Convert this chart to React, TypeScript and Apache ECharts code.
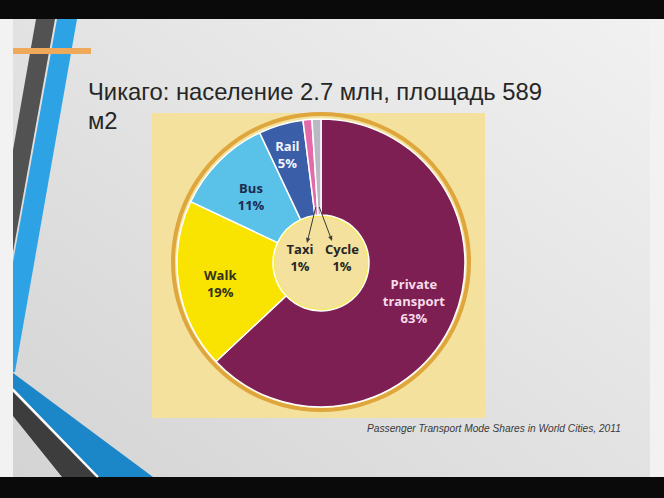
import React, { useEffect, useRef } from "react";
import * as echarts from "echarts";

const categories = ["Private transport", "Walk", "Bus", "Rail", "Taxi", "Cycle"];
const shares = [63, 19, 11, 5, 1, 1];
const sliceColors = ["#7e1f53", "#f8e400", "#5ac1e8", "#3b5ea8", "#e56aa9", "#b8b9c3"];
const labelColors = ["#f6dbe9", "#35321a", "#1d2b4f", "#f2f4ff", "#262626", "#262626"];
const titleLines = ["Чикаго: население 2.7 млн, площадь 589", "м2"];
const captionText = "Passenger Transport Mode Shares in World Cities, 2011";

const CX = 321;
const CY = 263;

export default function App() {
  const ref = useRef<HTMLDivElement>(null);

  useEffect(() => {
    if (!ref.current) return;
    const chart = echarts.init(ref.current, undefined, { renderer: "svg" });
    const total = shares.reduce((a, b) => a + b, 0);

    // arrows for the tiny slices (Taxi, Cycle)
    const arrowEnds: Record<number, [number, number]> = { 4: [CX - 14, CY - 20], 5: [CX + 11, CY - 22] };
    const arrows: any[] = [];
    let cum = 0;
    shares.forEach((v, i) => {
      const mid = (cum + v / 2) / total;
      cum += v;
      if (arrowEnds[i]) {
        const th = mid * Math.PI * 2;
        const sx = CX + 56 * Math.sin(th);
        const sy = CY - 56 * Math.cos(th);
        const [ex, ey] = arrowEnds[i];
        const ang = Math.atan2(ey - sy, ex - sx);
        const L = 5, W = 2.2;
        const bx = ex - L * Math.cos(ang);
        const by = ey - L * Math.sin(ang);
        arrows.push({
          type: "line",
          z: 100,
          shape: { x1: sx, y1: sy, x2: bx, y2: by },
          style: { stroke: "#3a3a3a", lineWidth: 1 },
        });
        arrows.push({
          type: "polygon",
          z: 100,
          shape: {
            points: [
              [ex, ey],
              [bx + W * Math.sin(ang), by - W * Math.cos(ang)],
              [bx - W * Math.sin(ang), by + W * Math.cos(ang)],
            ],
          },
          style: { fill: "#3a3a3a" },
        });
      }
    });

    const labelShift: Record<number, any> = {
      0: { dx: 2, dy: -1 },
      1: { dx: -3, dy: 5 },
      2: { dx: 0, dy: 4 },
      3: { dx: -6, dy: -13 },
    };

    chart.setOption({
      animation: false,
      title: [
        {
          text: titleLines.join("\n"),
          left: 83,
          top: 72,
          textStyle: {
            fontFamily: "Liberation Sans, Arial, sans-serif",
            fontSize: 23.8,
            fontWeight: "normal",
            color: "#262626",
            lineHeight: 29,
          },
        },
        {
          text: captionText,
          left: 362,
          top: 418,
          textStyle: {
            fontFamily: "Liberation Sans, Arial, sans-serif",
            fontSize: 10.2,
            fontStyle: "italic",
            fontWeight: "normal",
            color: "#3a3a3a",
          },
        },
      ],
      graphic: [
        { type: "rect", shape: { x: 0, y: 0, width: 664, height: 498 }, style: { fill: "#0a0a0a" } },
        { type: "rect", shape: { x: 0, y: 19, width: 664, height: 458 }, style: { fill: "#f2f2f2" } },
        {
          type: "rect",
          shape: { x: 13, y: 19, width: 637, height: 458 },
          style: {
            fill: new echarts.graphic.LinearGradient(1, 0, 0, 1, [
              { offset: 0, color: "#f1f1f1" },
              { offset: 1, color: "#d4d4d4" },
            ]),
          },
        },
        { type: "polygon", shape: { points: [[36, 19], [55, 19], [13, 252], [13, 150]] }, style: { fill: "#525252" } },
        { type: "polygon", shape: { points: [[57, 19], [77, 19], [15, 372], [13, 372], [13, 262]] }, style: { fill: "#2da3e6" } },
        { type: "polygon", shape: { points: [[13, 373], [153, 477], [99, 477], [13, 388]] }, style: { fill: "#1c87c8" } },
        { type: "line", shape: { x1: 13, y1: 389.8, x2: 97.8, y2: 477 }, style: { stroke: "#ffffff", lineWidth: 2 } },
        { type: "polygon", shape: { points: [[13, 392], [96, 477], [62, 477], [13, 416]] }, style: { fill: "#3d3d3d" } },
        { type: "rect", shape: { x: 13, y: 48, width: 78, height: 6 }, style: { fill: "#eea95b" } },
        { type: "rect", shape: { x: 152, y: 113, width: 333, height: 305 }, style: { fill: "#f3e19d" } },
        { type: "ring", shape: { cx: CX, cy: CY - 1, r: 150, r0: 146 }, style: { fill: "#dfa63c" } },
        { type: "circle", z: 1, shape: { cx: CX, cy: CY, r: 47.5 }, style: { fill: "#f3e19d", stroke: "#f7ea5a", lineWidth: 3 } },
        ...arrows,
      ],
      series: [
        {
          type: "pie",
          center: [CX, CY],
          radius: [48, 144],
          startAngle: 90,
          clockwise: true,
          avoidLabelOverlap: false,
          z: 2,
          itemStyle: { borderColor: "#ffffff", borderWidth: 1.5 },
          labelLine: { show: false },
          label: {
            show: true,
            position: "inside",
            fontFamily: "Open Sans, Noto Sans, sans-serif",
            fontWeight: "bold",
            fontSize: 13,
            lineHeight: 17,
            formatter: (p: any) => `${String(p.name).replace(" ", "\n")}\n${p.value}%`,
          },
          labelLayout: (p: any) => {
            if (p.dataIndex === 4) return { x: CX - 21, y: CY - 6, align: "center", verticalAlign: "middle" };
            if (p.dataIndex === 5) return { x: CX + 21, y: CY - 6, align: "center", verticalAlign: "middle" };
            return labelShift[p.dataIndex] || {};
          },
          emphasis: { disabled: true },
          data: categories.map((name, i) => ({
            name,
            value: shares[i],
            itemStyle: { color: sliceColors[i] },
            label: { color: labelColors[i] },
            labelLine: { show: false },
          })),
        },
      ],
    });
    return () => chart.dispose();
  }, []);

  return (
    <div
      ref={ref}
      style={{ position: "absolute", left: 0, top: 0, width: 664, height: 498 }}
    />
  );
}
